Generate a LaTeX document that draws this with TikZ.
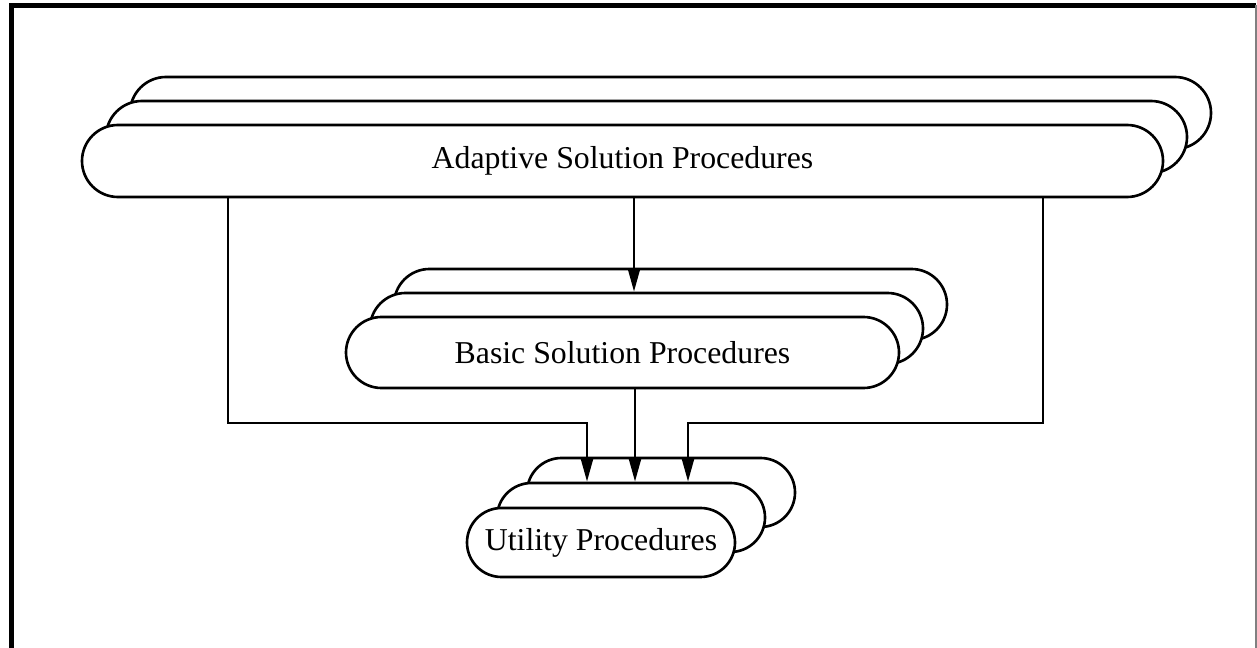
\documentclass[tikz,border=0pt]{standalone}
\usepackage{fontspec}
\setmainfont{Liberation Serif}
\usetikzlibrary{shapes.misc,arrows.meta}

\tikzset{
	proc/.style={rounded rectangle, draw, fill=white, line width=1.5pt,
		inner sep=0pt, font=\fontsize{18.1}{21}\selectfont},
	link/.style={line width=1.4pt},
	tip/.style={-{Triangle[length=0.46cm,width=0.24cm]}}
}

\begin{document}
\begin{tikzpicture}[x=0.02cm, y=-0.02cm]
	\useasboundingbox (0,0) rectangle (1257,648);
	
	% frame
	\draw[line width=2.8pt] (11.5,648) -- (11.5,5.5) -- (1256,5.5);
	\draw[gray, line width=0.6pt] (1256,5.5) -- (1256,648);
	
	% adaptive solution procedures
	\def\w{1081*0.02cm} % width
	\def\h{72*0.02cm} % height
	\node[proc, minimum width=\w, minimum height=\h] (adapt3) at (670.5,113) {};
	\node[proc, minimum width=\w, minimum height=\h] (adapt2) at (646.5,137) {};
	\node[proc, minimum width=\w, minimum height=\h] (adapt1) at (622.5,161) {Adaptive Solution Procedures};
	
	% basic solution procedures
	\def\w{553*0.02cm}
	\def\h{71*0.02cm}
	\node[proc, minimum width=\w, minimum height=\h] (basic3) at (670.5,304.5) {};
	\node[proc, minimum width=\w, minimum height=\h] (basic2) at (646.5,328.5) {};
	\node[proc, minimum width=\w, minimum height=\h] (basic1) at (622.5,352.5) {Basic Solution Procedures};
	
	% utility procedures
	\def\w{268*0.02cm}
	\def\h{69*0.02cm}
	\node[proc, minimum width=\w, minimum height=\h] (util3) at (661,492.5) {};
	\node[proc, minimum width=\w, minimum height=\h] (util2) at (631,517.5) {};
	\node[proc, minimum width=\w, minimum height=\h] (util1) at (601,542.5) {Utility Procedures};
	
	% connectors
	\coordinate (m) at (634,0);
	\coordinate (n) at (635,0);
	\coordinate (la) at (228,423);
	\coordinate (lb) at (587,423);
	\coordinate (ra) at (1043,423);
	\coordinate (rb) at (688,423);
	
	\draw[link, tip] (adapt1.south -| m) -- (basic2.north -| m);
	\draw[link, tip] (basic1.south -| n) -- (util2.north -| n);
	\draw[link, tip] (adapt1.south -| la) -- (la) -- (lb) -- (util2.north -| lb);
	\draw[link, tip] (adapt1.south -| ra) -- (ra) -- (rb) -- (util2.north -| rb);
\end{tikzpicture}
\end{document}
